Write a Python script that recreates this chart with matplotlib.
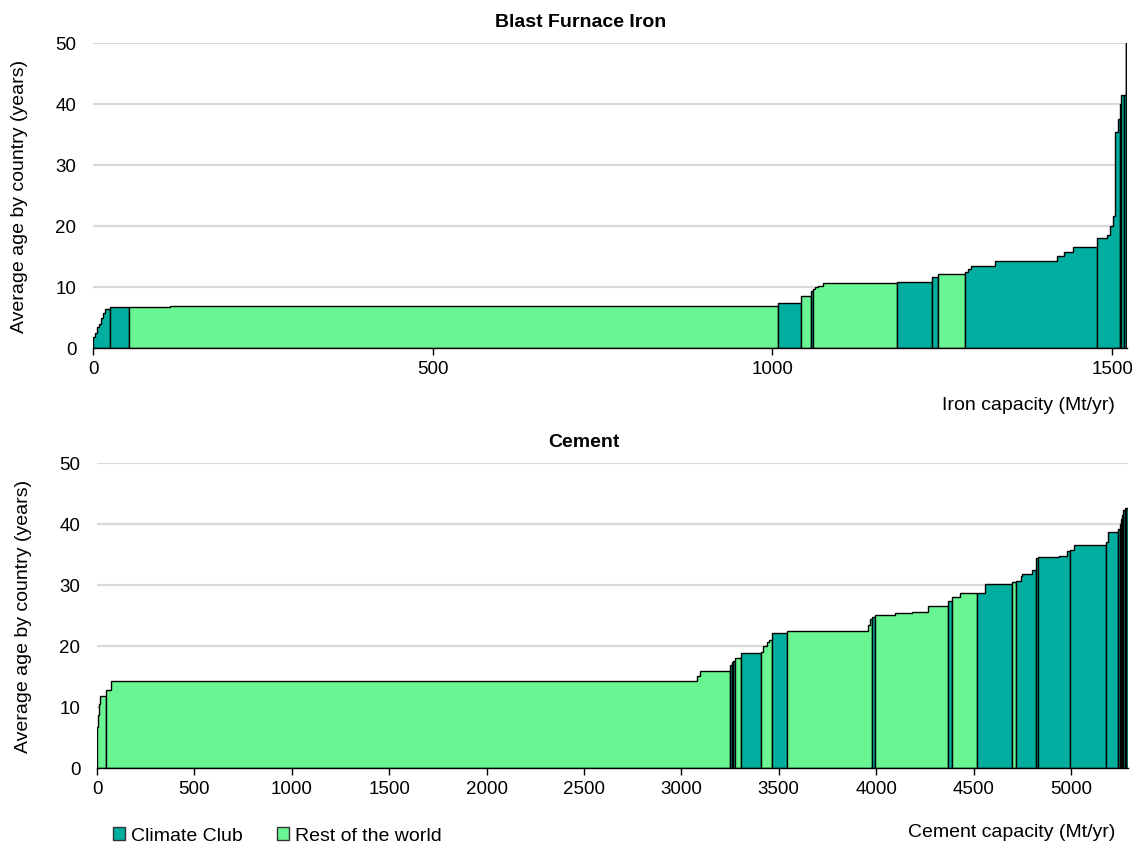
import matplotlib
matplotlib.use('Agg')
import matplotlib.pyplot as plt
from matplotlib.patches import Patch

plt.rcParams['font.family'] = ['Liberation Sans', 'DejaVu Sans']

CLUB_COLOR = '#00AE9F'
ROW_COLOR = '#69F592'

# Blast furnace iron: capacity per country (Mt/yr), average plant age (years),
# climate club membership, and outline group (consecutive entries drawn as one block)
iron_cap = [3, 3, 3, 3, 3, 3, 6.6,
            27.9,
            60.5, 895,
            34,
            15,
            3,
            2, 5, 8, 109,
            51.5,
            8.5,
            39,
            5.5, 3.5, 35, 91.6, 10.4, 14, 35.5,
            13.5, 5, 4, 4, 3, 3,
            2,
            4,
            3, 1]
iron_age = [1.8, 2.4, 3.4, 4.0, 4.9, 5.8, 6.4,
            6.7,
            6.75, 6.9,
            7.4,
            8.6,
            9.4,
            9.67, 9.95, 10.2, 10.6,
            10.8,
            11.6,
            12.1,
            12.5, 12.95, 13.5, 14.3, 15.1, 15.7, 16.6,
            18.0, 18.5, 20.0, 21.6, 35.4, 37.5,
            40.0,
            41.4,
            41.4, 50.0]
iron_club = [1, 1, 1, 1, 1, 1, 1,
             1,
             0, 0,
             1,
             0,
             1,
             0, 0, 0, 0,
             1,
             1,
             0,
             1, 1, 1, 1, 1, 1, 1,
             1, 1, 1, 1, 1, 1,
             0,
             1,
             1, 1]
iron_block = [0, 0, 0, 0, 0, 0, 0,
              1,
              2, 2,
              3,
              4,
              5,
              6, 6, 6, 6,
              7,
              8,
              9,
              10, 10, 10, 10, 10, 10, 10,
              11, 11, 11, 11, 11, 11,
              12,
              13,
              14, 14]

# Cement
cement_cap = [5, 5, 5, 29.5,
              27.5, 3008, 15, 154,
              9,
              8,
              9,
              31,
              103,
              12, 17, 10, 15,
              81,
              416, 8, 9,
              17,
              102, 86, 86, 102,
              17,
              43, 89,
              41, 135,
              21,
              30, 5, 49, 20,
              11,
              110, 38, 16,
              20, 165,
              10, 53,
              7, 7, 6, 6, 7, 6,
              11]
cement_age = [6.7, 8.6, 10.5, 11.75,
              12.7, 14.2, 15.0, 15.85,
              16.9,
              17.3,
              17.6,
              18.1,
              18.8,
              19.0, 20.0, 20.6, 21.0,
              22.1,
              22.5, 23.5, 24.4,
              24.8,
              25.1, 25.4, 25.6, 26.6,
              27.4,
              28.0, 28.7,
              28.7, 30.2,
              30.4,
              30.7, 31.4, 31.8, 32.5,
              34.4,
              34.5, 34.7, 35.6,
              35.8, 36.6,
              37.1, 38.6,
              39.2, 40.0, 40.8, 41.5, 42.2, 42.6,
              42.6]
cement_club = [0, 0, 0, 0,
               0, 0, 0, 0,
               1,
               1,
               1,
               0,
               1,
               0, 0, 0, 0,
               1,
               0, 0, 0,
               1,
               0, 0, 0, 0,
               1,
               0, 0,
               1, 1,
               0,
               1, 1, 1, 1,
               1,
               1, 1, 1,
               1, 1,
               1, 1,
               1, 1, 1, 1, 1, 1,
               1]
cement_block = [0, 0, 0, 0,
                1, 1, 1, 1,
                2,
                3,
                4,
                5,
                6,
                7, 7, 7, 7,
                8,
                9, 9, 9,
                10,
                11, 11, 11, 11,
                12,
                13, 13,
                14, 14,
                15,
                16, 16, 16, 16,
                17,
                18, 18, 18,
                19, 19,
                20, 20,
                21, 22, 23, 24, 25, 26,
                27]


def draw_panel(ax, caps, ages, club, blocks, title, xlabel, xmax, xticks,
               xlabel_y):
    # stack entries left to right, one outlined polygon per block
    x = 0.0
    polys = {}
    for w, h, c, b in zip(caps, ages, club, blocks):
        pts, col = polys.setdefault(b, ([(x, 0)], CLUB_COLOR if c else ROW_COLOR))
        pts.append((x, h))
        pts.append((x + w, h))
        x += w
    for b, (pts, col) in polys.items():
        pts = pts + [(pts[-1][0], 0)]
        xs, ys = zip(*pts)
        ax.fill(xs, ys, facecolor=col, edgecolor='black', linewidth=1.0,
                zorder=3)

    ax.set_xlim(0, xmax)
    ax.set_ylim(0, 50)
    ax.set_yticks(range(0, 51, 10))
    ax.set_xticks(xticks)
    ax.tick_params(axis='y', length=0, labelsize=13.5, pad=12)
    ax.tick_params(axis='x', direction='out', length=5, width=1,
                   labelsize=13.5, colors='black', pad=4)
    ax.grid(axis='y', color='#D9D9D9', linewidth=1.6, zorder=0)
    ax.set_axisbelow(True)
    for s in ('top', 'right', 'left'):
        ax.spines[s].set_visible(False)
    ax.spines['bottom'].set_linewidth(1.0)
    ax.spines['bottom'].set_zorder(4)
    ax.set_title(title, fontsize=14, fontweight='bold', pad=12, x=0.472)
    ax.set_ylabel('Average age by country (years)', fontsize=14, labelpad=20)
    ax.set_xlabel(xlabel, fontsize=14, ha='right')
    ax.xaxis.set_label_coords(0.988, xlabel_y)


fig = plt.figure(figsize=(11.32, 8.45), dpi=100)
ax_iron = fig.add_axes([0.0822, 0.587, 0.9134, 0.361])
ax_cem = fig.add_axes([0.0857, 0.090, 0.9108, 0.361])

draw_panel(ax_iron, iron_cap, iron_age, iron_club, iron_block,
           'Blast Furnace Iron', 'Iron capacity (Mt/yr)', 1522,
           [0, 500, 1000, 1500], -0.157)
draw_panel(ax_cem, cement_cap, cement_age, cement_club, cement_block,
           'Cement', 'Cement capacity (Mt/yr)', 5293,
           list(range(0, 5001, 500)), -0.18)

handles = [Patch(facecolor=CLUB_COLOR, edgecolor='#333333', label='Climate Club'),
           Patch(facecolor=ROW_COLOR, edgecolor='#333333', label='Rest of the world')]
fig.legend(handles=handles, loc='lower left', bbox_to_anchor=(0.084, -0.021),
           ncol=2, frameon=False, fontsize=14, handlelength=0.65,
           handleheight=0.65, handletextpad=0.3, columnspacing=1.75)

fig.savefig('out.png', dpi=100)
